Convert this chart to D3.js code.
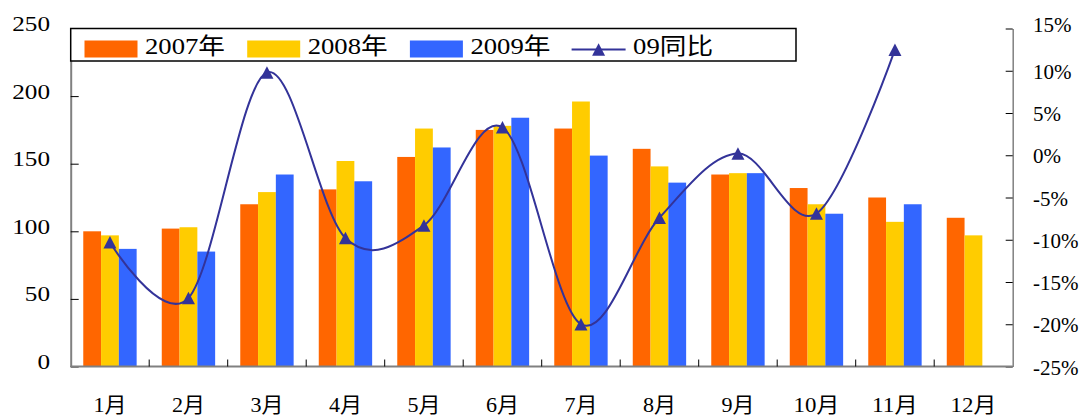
<!DOCTYPE html>
<html>
<head>
<meta charset="utf-8">
<script src="https://cdn.jsdelivr.net/npm/d3@7"></script>
<style>
body{margin:0;background:#fff;}
svg{display:block;}
text{font-family:"Liberation Serif","Noto Sans CJK SC",serif;fill:#000;}
</style>
</head>
<body>
<svg id="chart" width="1082" height="416"></svg>
<script>
// ---- data ----
const months = ['1月','2月','3月','4月','5月','6月','7月','8月','9月','10月','11月','12月'];
const seriesNames = ['2007年','2008年','2009年'];
const s2007 = [100,102,120,131,155,175,176,161,142,132,125,110];
const s2008 = [97,103,129,152,176,178,196,148,143,120,107,97];
const s2009 = [87,85,142,137,162,184,156,136,143,113,120,null];
const yoy = [-10.3,-16.9,9.8,-9.8,-8.3,3.3,-20.0,-7.4,0.2,-6.9,12.5,null];
const lineName = '09同比';
const leftTicks = [0,50,100,150,200,250];
const rightTicks = [-25,-20,-15,-10,-5,0,5,10,15];
const colors = ['#FF6600','#FFCC00','#3366FF'];
const lineColor = '#333399';

// ---- layout ----
const svg = d3.select('#chart');
const L = 70.7, R = 1012.7, T = 28.5, B = 366.5;

const x = d3.scaleBand().domain(months).range([L, R]).paddingInner(0).paddingOuter(0);
const bw = x.bandwidth();
const x1 = d3.scaleBand().domain(seriesNames).range([bw*0.16, bw*0.84]).padding(0);
const yL = d3.scaleLinear().domain([0,250]).range([B, T]);
const yR = d3.scaleLinear().domain([-25,15]).range([B, T]);

const series = [s2007, s2008, s2009];

function stretch(sel, f) {
  sel.each(function() {
    const len = this.getComputedTextLength();
    d3.select(this).attr('textLength', len * f).attr('lengthAdjust', 'spacingAndGlyphs');
  });
}

// bars
const gBars = svg.append('g');
months.forEach((m, i) => {
  const g = gBars.append('g').attr('transform', `translate(${x(m)},0)`);
  series.forEach((s, j) => {
    const v = s[i];
    if (v == null) return;
    g.append('rect')
      .attr('x', x1(seriesNames[j]))
      .attr('width', x1.bandwidth())
      .attr('y', yL(v))
      .attr('height', yL(0) - yL(v))
      .attr('fill', colors[j]);
  });
});

// left axis
const gL = svg.append('g').attr('transform', `translate(${L},0)`)
  .call(d3.axisLeft(yL).tickValues(leftTicks).tickSizeInner(-8).tickSizeOuter(0).tickPadding(20.7));
gL.attr('font-family', null).attr('font-size', null);
gL.select('.domain').attr('stroke', '#808080').attr('stroke-width', 2);
gL.selectAll('.tick line').attr('stroke', '#000').attr('stroke-width', 1);
gL.selectAll('.tick text').attr('dy', null).attr('y', 2).style('font-size', '21px').call(stretch, 1.2);

// right axis
const gR = svg.append('g').attr('transform', `translate(${R},0)`)
  .call(d3.axisRight(yR).tickValues(rightTicks).tickSizeInner(-7).tickSizeOuter(0).tickPadding(20.3).tickFormat(d => d + '%'));
gR.attr('font-family', null).attr('font-size', null);
gR.select('.domain').attr('stroke', '#808080').attr('stroke-width', 1.5);
gR.selectAll('.tick line').attr('stroke', '#000').attr('stroke-width', 1);
gR.selectAll('.tick text').attr('dy', null).attr('y', d => d === 15 ? 3 : 7.5).style('font-size', '21px');

// bottom axis
const gB = svg.append('g');
gB.append('line').attr('x1', L).attr('x2', R).attr('y1', B).attr('y2', B)
  .attr('stroke', '#808080').attr('stroke-width', 2);
months.forEach((m, i) => {
  if (i > 0) {
    gB.append('line').attr('x1', x(m)).attr('x2', x(m)).attr('y1', B).attr('y2', B - 7)
      .attr('stroke', '#000').attr('stroke-width', 1);
  }
  const nd = m.length - 1;
  gB.append('text').attr('x', x(m) + bw/2).attr('y', 412).attr('text-anchor', 'middle')
    .style('font-size', '21px')
    .attr('textLength', nd * 12.6 + 20.5).attr('lengthAdjust', 'spacingAndGlyphs')
    .text(m);
});

// line
const pts = months.map((m, i) => ({x: x(m) + bw/2, v: yoy[i]}));
const line = d3.line().defined(d => d.v != null).x(d => d.x).y(d => yR(d.v)).curve(d3.curveCardinal);
svg.append('path').datum(pts).attr('d', line).attr('fill', 'none')
  .attr('stroke', lineColor).attr('stroke-width', 2);
const tri = 'M0,-6.25L6.5,6.25L-6.5,6.25Z';
svg.append('g').selectAll('path').data(pts.filter(d => d.v != null)).join('path')
  .attr('d', tri).attr('transform', d => `translate(${d.x},${yR(d.v)})`)
  .attr('fill', lineColor);

// legend
const gLeg = svg.append('g');
gLeg.append('rect').attr('x', L).attr('y', T).attr('width', 796 - L).attr('height', 61 - T)
  .attr('fill', '#fff').attr('stroke', '#000').attr('stroke-width', 1.5);
const legItems = seriesNames.map((n, j) => ({label: n, color: colors[j], type: 'bar'}))
  .concat([{label: lineName, color: lineColor, type: 'line'}]);
legItems.forEach((it, k) => {
  const x0 = 84.5 + k * 162.7;
  if (it.type === 'bar') {
    gLeg.append('rect').attr('x', x0).attr('y', 40.5).attr('width', 53).attr('height', 17).attr('fill', it.color);
  } else {
    gLeg.append('line').attr('x1', x0 - 1).attr('x2', x0 + 53).attr('y1', 49.5).attr('y2', 49.5)
      .attr('stroke', it.color).attr('stroke-width', 2);
    gLeg.append('path').attr('d', tri).attr('transform', `translate(${x0 + 26},49.5)`).attr('fill', it.color);
  }
  gLeg.append('text').attr('x', x0 + 60.5).attr('y', 53.5).style('font-size', '23px')
    .attr('textLength', 80).attr('lengthAdjust', 'spacingAndGlyphs').text(it.label);
});
</script>
</body>
</html>
